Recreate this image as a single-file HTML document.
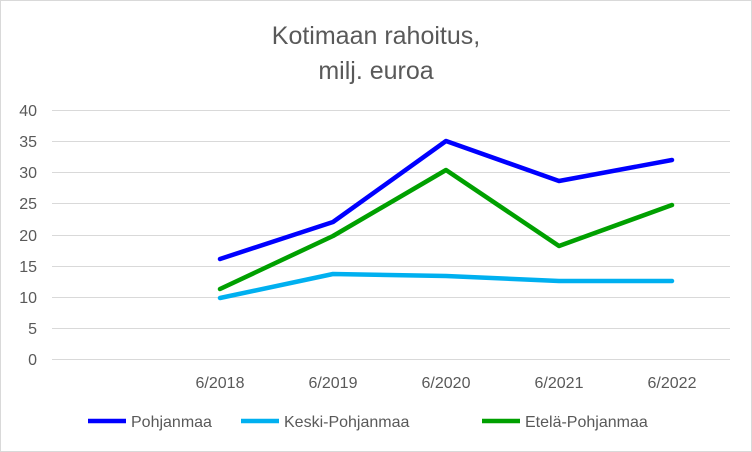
<!DOCTYPE html>
<html><head><meta charset="utf-8"><style>
html,body{margin:0;padding:0;background:#fff;}
svg{display:block;font-family:"Liberation Sans",sans-serif;}
</style></head><body>
<svg width="752" height="452" viewBox="0 0 752 452">
<rect x="0.5" y="0.5" width="751" height="451" fill="#fff" stroke="#d9d9d9"/>
<text x="376" y="44" text-anchor="middle" font-size="25" fill="#595959">Kotimaan rahoitus,</text>
<text x="376" y="79" text-anchor="middle" font-size="25" fill="#595959">milj. euroa</text>
<g stroke="#d9d9d9" stroke-width="1">
<line x1="52" x2="730" y1="110.5" y2="110.5"/>
<line x1="52" x2="730" y1="141.5" y2="141.5"/>
<line x1="52" x2="730" y1="172.5" y2="172.5"/>
<line x1="52" x2="730" y1="203.5" y2="203.5"/>
<line x1="52" x2="730" y1="235.5" y2="235.5"/>
<line x1="52" x2="730" y1="266.5" y2="266.5"/>
<line x1="52" x2="730" y1="297.5" y2="297.5"/>
<line x1="52" x2="730" y1="328.5" y2="328.5"/>
<line x1="52" x2="730" y1="359.5" y2="359.5"/>
</g>
<g font-size="16" fill="#595959" text-anchor="end">
<text x="37" y="116">40</text><text x="37" y="147">35</text><text x="37" y="178">30</text>
<text x="37" y="209">25</text><text x="37" y="241">20</text><text x="37" y="272">15</text>
<text x="37" y="303">10</text><text x="37" y="334">5</text><text x="37" y="365">0</text>
</g>
<g font-size="16" fill="#595959" text-anchor="middle">
<text x="220" y="388">6/2018</text><text x="333" y="388">6/2019</text><text x="446" y="388">6/2020</text>
<text x="559" y="388">6/2021</text><text x="672" y="388">6/2022</text>
</g>
<g fill="none" stroke-width="4.5" stroke-linejoin="round" stroke-linecap="round">
<polyline stroke="#00b0f0" points="220,298 333,274 446,276 559,281 672,281"/>
<polyline stroke="#00a000" points="220,289 333,236 446,170 559,246 672,205"/>
<polyline stroke="#0000ff" points="220,259 333,222 446,141 559,181 672,160"/>
</g>
<g font-size="16" fill="#595959">
<line x1="88" x2="126" y1="421" y2="421" stroke="#0000ff" stroke-width="4.5"/>
<text x="131" y="427">Pohjanmaa</text>
<line x1="241" x2="279" y1="421" y2="421" stroke="#00b0f0" stroke-width="4.5"/>
<text x="284" y="427">Keski-Pohjanmaa</text>
<line x1="482" x2="520" y1="421" y2="421" stroke="#00a000" stroke-width="4.5"/>
<text x="525" y="427">Etelä-Pohjanmaa</text>
</g>
</svg>
</body></html>
